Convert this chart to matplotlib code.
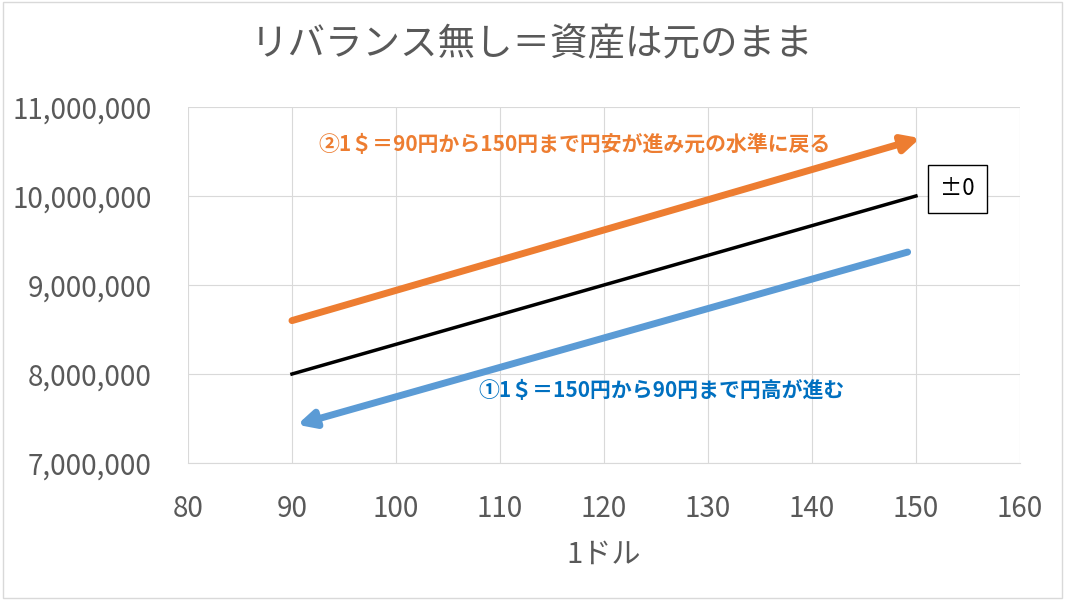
import matplotlib
matplotlib.use("Agg")
import matplotlib.pyplot as plt
from matplotlib.patches import Rectangle

plt.rcParams['font.family'] = ['Noto Sans CJK JP', 'DejaVu Sans']

line_x = [90, 150]
line_y = [8000000, 10000000]
orange_x = [90, 150.4]
orange_y = [8600000, 10650000]
blue_x = [149.2, 90.5]
blue_y = [9370000, 7430000]

fig = plt.figure(figsize=(10.65, 6), dpi=100)
fig.patches.append(Rectangle((0.003, 0.003), 0.994, 0.994, transform=fig.transFigure,
                             fill=False, edgecolor='#d9d9d9', lw=1))
ax = fig.add_axes([0.1765, 0.2283, 0.7812, 0.5934])
ax.set_xlim(80, 160)
ax.set_ylim(7000000, 11000000)
ax.set_xticks(range(80, 161, 10))
ax.set_yticks(range(7000000, 11000001, 1000000))
ax.set_yticklabels([f"{v:,}" for v in range(7000000, 11000001, 1000000)])
ax.grid(True, color='#d9d9d9', lw=0.8)
ax.set_axisbelow(True)
for s in ['top', 'right', 'left']:
    ax.spines[s].set_visible(False)
ax.spines['bottom'].set_color('#d9d9d9')
ax.tick_params(length=0, labelsize=20, colors='#595959')
ax.tick_params(axis='x', pad=22)
ax.tick_params(axis='y', pad=26)

ax.plot(line_x, line_y, color='black', lw=2.5)
ax.annotate('', xy=(orange_x[1], orange_y[1]), xytext=(orange_x[0], orange_y[0]),
            arrowprops=dict(arrowstyle='-|>,head_length=1.0,head_width=0.5', color='#ED7D31', lw=5,
                            shrinkA=0, shrinkB=0))
ax.annotate('', xy=(blue_x[1], blue_y[1]), xytext=(blue_x[0], blue_y[0]),
            arrowprops=dict(arrowstyle='-|>,head_length=1.0,head_width=0.5', color='#5B9BD5', lw=5,
                            shrinkA=0, shrinkB=0))

ax.text(117.2, 10580000, '②1＄＝90円から150円まで円安が進み元の水準に戻る', color='#ED7D31',
        fontsize=15, fontweight='bold', ha='center', va='center')
ax.text(125.5, 7820000, '①1＄＝150円から90円まで円高が進む', color='#0070C0',
        fontsize=15, fontweight='bold', ha='center', va='center')
ax.text(154, 10080000, '±0', fontsize=16, ha='center', va='center',
        bbox=dict(boxstyle='square,pad=0.55', fc='white', ec='black', lw=1))

ax.set_xlabel('1ドル', fontsize=21, color='#595959', labelpad=12)
fig.text(0.5, 0.925, 'リバランス無し＝資産は元のまま', ha='center', va='center',
         fontsize=27, color='#595959')
fig.savefig('out.png', dpi=100)
